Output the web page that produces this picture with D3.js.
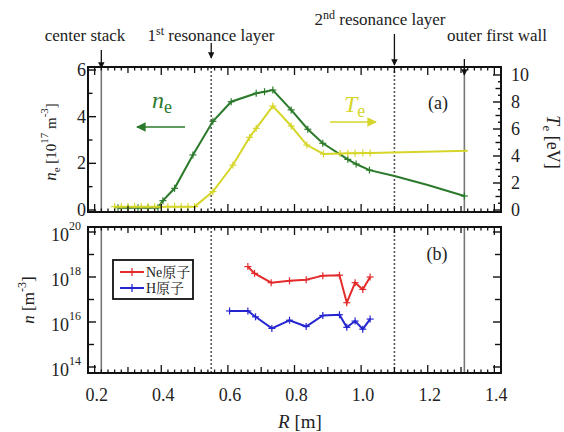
<!DOCTYPE html>
<html><head><meta charset="utf-8">
<script src="https://cdn.jsdelivr.net/npm/d3@7"></script>
<style>
body{margin:0;background:#fff}
svg text{font-family:"Liberation Serif","DejaVu Serif","Times New Roman",Times,serif;fill:#222}
</style>
</head><body><svg id="c" width="564" height="432" font-family="Liberation Serif, DejaVu Serif, serif"></svg>
<script>
// ---------- data ----------
const neR   = [0.27,0.30,0.33,0.36,0.39,0.405,0.44,0.495,0.555,0.61,0.685,0.71,0.735,0.79,0.84,0.885,0.96,0.985,1.025,1.10,1.20,1.31];
const neVal = [0.1,0.1,0.1,0.1,0.1,0.4,0.93,2.36,3.8,4.64,5.0,5.07,5.14,4.29,3.46,2.86,2.17,1.97,1.71,1.46,1.07,0.6];
const neMark= [1,1,1,1,1,1,1,1,1,1,1,1,1,1,1,1,1,1,1,0,0,1];

const teR   = [0.26,0.28,0.30,0.32,0.34,0.36,0.38,0.40,0.42,0.44,0.46,0.48,0.50,0.555,0.615,0.665,0.685,0.735,0.79,0.837,0.887,0.937,0.96,0.982,1.005,1.027,1.32];
const teVal = [0.25,0.25,0.25,0.25,0.25,0.25,0.25,0.25,0.25,0.25,0.25,0.25,0.25,1.36,3.33,5.38,6.05,7.7,6.22,4.81,4.15,4.18,4.2,4.2,4.22,4.22,4.39];
const teMark= [1,1,1,1,1,1,1,1,1,1,1,1,1,1,1,1,1,1,1,1,1,1,1,1,1,1,0];

const neonR   = [0.66,0.68,0.73,0.785,0.835,0.885,0.935,0.957,0.982,1.005,1.027];
const neonVal = [2.9e18,1.45e18,5.6e17,6.8e17,7.6e17,1.15e18,1.2e18,7.2e16,5.6e17,2.8e17,1.0e18];
const hR      = [0.605,0.66,0.683,0.732,0.785,0.835,0.885,0.935,0.957,0.982,1.005,1.027];
const hVal    = [3.1e16,3.1e16,1.7e16,5.2e15,1.2e16,6.3e15,1.95e16,2.1e16,5.8e15,1.1e16,4.8e15,1.35e16];

const xTickVals  = [0.2,0.4,0.6,0.8,1.0,1.2,1.4];
const neTickVals = [0,2,4,6];
const teTickVals = [0,2,4,6,8,10];
const nTickVals  = [1e14,1e16,1e18,1e20];

const markerLines = [
  {name:"center stack", R:0.22, dotted:false},
  {name:"1st resonance layer", R:0.55, dotted:true},
  {name:"2nd resonance layer", R:1.10, dotted:true},
  {name:"outer first wall", R:1.31, dotted:false}
];
const legendNames = ["Ne原子","H原子"];

// ---------- colors ----------
const cNe="#2b7a2b", cTe="#d6d62a", cNeon="#e32b2b", cH="#2424d0";
const SERIF="'Liberation Serif','DejaVu Serif',serif";

// ---------- scales ----------
const svg = d3.select("#c");
const FL=88, FR=501;
const A={top:67,bottom:212}, B={top:227,bottom:373};
const x  = d3.scaleLinear().domain([0.18,1.42]).range([FL,FR]);
const yNe= d3.scaleLinear().domain([0,6]).range([210,70]);
const yTe= d3.scaleLinear().domain([0,10]).range([210,75]);
const yN = d3.scaleLog().domain([1e14,1e20]).range([367,232]);

const defs=svg.append("defs");
[["ahG",cNe],["ahY",cTe],["ahK","#111"]].forEach(([id,c])=>{
  defs.append("marker").attr("id",id).attr("viewBox","0 0 10 10").attr("refX",9).attr("refY",5)
   .attr("markerWidth",id==="ahK"?5:6).attr("markerHeight",id==="ahK"?5:6).attr("orient","auto")
   .attr("markerUnits","strokeWidth")
   .append("path").attr("d","M0,0L10,5L0,10z").attr("fill",c);
});

// ---------- helpers ----------
const xMinor = d3.range(9,72).map(i=>+(i*0.02).toFixed(2));
function tickLen(v){ const k=Math.round(v*100); return k%20===0?8:(k%10===0?6:3.5); }
function xTicksAt(y, dir){
  svg.append("g").selectAll("line").data(xMinor).join("line")
   .attr("x1",d=>x(d)).attr("x2",d=>x(d))
   .attr("y1",y).attr("y2",d=>y+dir*tickLen(d))
   .attr("stroke","#111").attr("stroke-width",1.3);
}
function yTicks(scale, vals, xpos, dir, len){
  svg.append("g").selectAll("line").data(vals).join("line")
   .attr("x1",xpos).attr("x2",xpos+dir*len)
   .attr("y1",d=>scale(d)).attr("y2",d=>scale(d))
   .attr("stroke","#111").attr("stroke-width",1.4);
}
function vlines(top,bottom){
  markerLines.forEach(m=>{
    svg.append("line").attr("x1",x(m.R)).attr("x2",x(m.R)).attr("y1",top).attr("y2",bottom)
      .attr("stroke",m.dotted?"#555":"#777").attr("stroke-width",1.6)
      .attr("stroke-dasharray",m.dotted?"2,2":null);
  });
}
function series(R,V,M,ys,color){
  const pts=R.map((r,i)=>({r,v:V[i],m:M?M[i]:1}));
  svg.append("path").datum(pts)
    .attr("d",d3.line().x(d=>x(d.r)).y(d=>ys(d.v)))
    .attr("fill","none").attr("stroke",color).attr("stroke-width",2);
  const g=svg.append("g");
  pts.filter(d=>d.m).forEach(d=>{
    const cx=x(d.r), cy=ys(d.v);
    g.append("line").attr("x1",cx-3.5).attr("x2",cx+3.5).attr("y1",cy).attr("y2",cy).attr("stroke",color).attr("stroke-width",1.2);
    g.append("line").attr("x1",cx).attr("x2",cx).attr("y1",cy-3.5).attr("y2",cy+3.5).attr("stroke",color).attr("stroke-width",1.2);
  });
}
function txt(sel){ return sel.style("font-family",SERIF); }

// ---------- panel (a) ----------
vlines(A.top,A.bottom);
series(neR,neVal,neMark,yNe,cNe);
series(teR,teVal,teMark,yTe,cTe);
xTicksAt(A.bottom,-1); xTicksAt(A.top,1);
yTicks(yNe,neTickVals,FL,1,8);
yTicks(yNe,[1,3,5],FL,1,4.5);
yTicks(yTe,teTickVals,FR,-1,8);
yTicks(yTe,[1,3,5,7,9],FR,-1,5.5);
yTicks(yTe,d3.range(0.5,10,1),FR,-1,3);
svg.append("rect").attr("x",FL).attr("y",A.top).attr("width",FR-FL).attr("height",A.bottom-A.top)
  .attr("fill","none").attr("stroke","#111").attr("stroke-width",2);

txt(svg.append("g").selectAll("text").data(neTickVals).join("text"))
  .attr("x",FL-2).attr("y",d=>yNe(d)+6).attr("text-anchor","end").attr("font-size",18).text(d=>d);
txt(svg.append("g").selectAll("text").data(teTickVals).join("text"))
  .attr("x",FR+10).attr("y",d=>yTe(d)+6).attr("text-anchor","start").attr("font-size",18).text(d=>d);

{
  const t=txt(svg.append("text")).attr("transform","translate(56,142) rotate(-90)").attr("text-anchor","middle").attr("font-size",15);
  t.append("tspan").attr("font-style","italic").attr("font-size",17).text("n");
  t.append("tspan").attr("font-size",11).attr("dy",4).text("e");
  t.append("tspan").attr("dy",-4).text(" [10");
  t.append("tspan").attr("font-size",11).attr("dy",-8).text("17");
  t.append("tspan").attr("dy",8).text(" m");
  t.append("tspan").attr("font-size",11).attr("dy",-8).text("-3");
  t.append("tspan").attr("dy",8).text("]");
}
{
  const t=txt(svg.append("text")).attr("transform","translate(547,142) rotate(90)").attr("text-anchor","middle").attr("font-size",18);
  t.append("tspan").attr("font-style","italic").text("T");
  t.append("tspan").attr("font-size",13).attr("dy",4).text("e");
  t.append("tspan").attr("dy",-4).text(" [eV]");
}
txt(svg.append("text")).attr("x",438).attr("y",109).attr("text-anchor","middle").attr("font-size",18).text("(a)");

{
  const t=txt(svg.append("text")).attr("x",152).attr("y",108).attr("font-size",24).style("fill",cNe);
  t.append("tspan").attr("font-style","italic").text("n");
  t.append("tspan").attr("font-size",18).attr("dy",5).text("e");
  svg.append("line").attr("x1",185).attr("x2",137).attr("y1",127).attr("y2",127)
    .attr("stroke",cNe).attr("stroke-width",1.6).attr("marker-end","url(#ahG)");
  const u=txt(svg.append("text")).attr("x",344).attr("y",112).attr("font-size",24).style("fill",cTe);
  u.append("tspan").attr("font-style","italic").text("T");
  u.append("tspan").attr("font-size",18).attr("dy",5).text("e");
  svg.append("line").attr("x1",330).attr("x2",376).attr("y1",122).attr("y2",122)
    .attr("stroke",cTe).attr("stroke-width",1.6).attr("marker-end","url(#ahY)");
}

function ann(a,sup,rest,cx,cy){
  const t=txt(svg.append("text")).attr("x",cx).attr("y",cy).attr("text-anchor","middle").attr("font-size",17);
  t.append("tspan").text(a);
  if(sup){ t.append("tspan").attr("font-size",12).attr("dy",-6).text(sup); t.append("tspan").attr("dy",6).text(rest); }
}
ann("center stack",null,null,85,41);
ann("1","st"," resonance layer",211,41);
ann("2","nd"," resonance layer",380,25);
ann("outer first wall",null,null,497,41);
[[0,50,68],[1,43,58],[2,34,65],[3,59,75]].forEach(([i,y1,y2])=>{
  const xx=x(markerLines[i].R);
  svg.append("line").attr("x1",xx).attr("x2",xx).attr("y1",y1).attr("y2",y2)
    .attr("stroke","#111").attr("stroke-width",1.3).attr("marker-end","url(#ahK)");
});

// ---------- panel (b) ----------
vlines(B.top,B.bottom);
series(neonR,neonVal,null,yN,cNeon);
series(hR,hVal,null,yN,cH);
xTicksAt(B.bottom,-1); xTicksAt(B.top,1);
yTicks(yN,nTickVals,FL,1,8); yTicks(yN,[1e15,1e17,1e19],FL,1,6);
yTicks(yN,nTickVals,FR,-1,8); yTicks(yN,[1e15,1e17,1e19],FR,-1,6);
svg.append("rect").attr("x",FL).attr("y",B.top).attr("width",FR-FL).attr("height",B.bottom-B.top)
  .attr("fill","none").attr("stroke","#111").attr("stroke-width",2);

txt(svg.append("g").selectAll("text").data(nTickVals).join("text"))
  .attr("x",51).attr("y",d=>yN(d)+9).attr("font-size",18)
  .each(function(d){
    const t=d3.select(this);
    t.append("tspan").text("10");
    t.append("tspan").attr("font-size",12).attr("dy",-11).text(Math.round(Math.log10(d)));
  });
txt(svg.append("g").selectAll("text").data(xTickVals).join("text"))
  .attr("x",d=>x(d)+2).attr("y",401).attr("text-anchor","middle").attr("font-size",18).text(d=>d.toFixed(1));
{
  const t=txt(svg.append("text")).attr("x",300).attr("y",428).attr("text-anchor","middle").attr("font-size",19);
  t.append("tspan").attr("font-style","italic").text("R");
  t.append("tspan").text(" [m]");
}
{
  const t=txt(svg.append("text")).attr("transform","translate(34,300) rotate(-90)").attr("text-anchor","middle").attr("font-size",17);
  t.append("tspan").attr("font-style","italic").text("n");
  t.append("tspan").text(" [m");
  t.append("tspan").attr("font-size",12).attr("dy",-8).text("-3");
  t.append("tspan").attr("dy",8).text("]");
}
txt(svg.append("text")).attr("x",437).attr("y",260).attr("text-anchor","middle").attr("font-size",18).text("(b)");

{
  const g=svg.append("g");
  g.append("rect").attr("x",113).attr("y",260).attr("width",80).attr("height",39)
    .attr("fill","#fff").attr("stroke","#111").attr("stroke-width",1.8);
  [[cNeon,272],[cH,288]].forEach(([c,yy],i)=>{
    g.append("line").attr("x1",120).attr("x2",144).attr("y1",yy).attr("y2",yy).attr("stroke",c).attr("stroke-width",2);
    g.append("line").attr("x1",132).attr("x2",132).attr("y1",yy-4).attr("y2",yy+4).attr("stroke",c).attr("stroke-width",1.3);
    g.append("text").attr("x",146).attr("y",yy+5).attr("font-size",14)
      .style("font-family","'Liberation Serif','Noto Serif CJK SC','Noto Sans CJK SC',serif").text(legendNames[i]);
  });
}
</script></body></html>
